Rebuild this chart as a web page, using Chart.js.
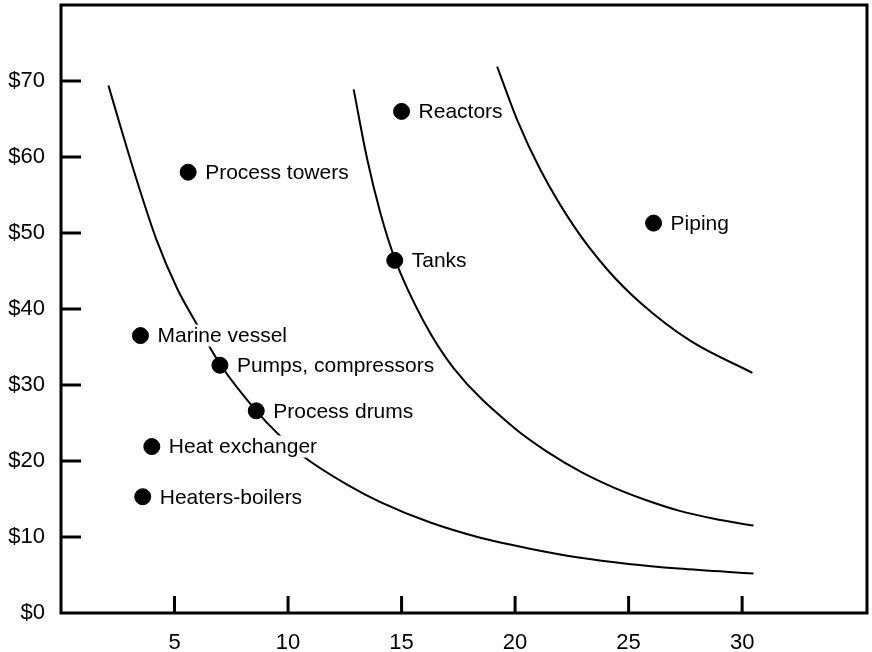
<!DOCTYPE html>
<html lang="en">
<head>
    <meta charset="UTF-8">
    <title>Cost curves</title>
    <script src="https://cdn.jsdelivr.net/npm/chart.js"></script>
    <style>
        body { margin: 0; background: #fff; }
    </style>
</head>
<body>
    <canvas id="myChart" width="872" height="652"></canvas>
    <script>
        // equipment points
        var pointNames = ['Reactors', 'Process towers', 'Piping', 'Tanks', 'Marine vessel',
                          'Pumps, compressors', 'Process drums', 'Heat exchanger', 'Heaters-boilers'];
        var pointX = [15.0, 5.6, 26.1, 14.7, 3.5, 7.0, 8.6, 4.0, 3.6];
        var pointY = [66.0, 58.0, 51.3, 46.4, 36.5, 32.6, 26.6, 21.9, 15.3];

        // curves
        var curve1X = [2.09, 2.75, 3.48, 4.22, 5.1, 5.98, 7.04, 8.6, 9.58, 10.68, 12.6, 14.07, 16.27, 18.47, 20.6, 22.8, 25.0, 27.2, 30.5];
        var curve1Y = [69.4, 62.7, 55.6, 49.0, 42.8, 38.0, 32.6, 26.6, 23.5, 20.6, 16.9, 14.6, 11.9, 9.9, 8.5, 7.3, 6.45, 5.85, 5.2];
        var curve2X = [12.89, 13.48, 14.07, 14.73, 15.97, 17.3, 19.94, 21.42, 22.88, 24.35, 25.82, 27.29, 28.76, 30.5];
        var curve2Y = [68.9, 59.8, 52.6, 46.4, 38.4, 32.2, 24.4, 21.2, 18.6, 16.5, 14.8, 13.4, 12.4, 11.5];
        var curve3X = [19.21, 20.09, 21.12, 22.59, 24.06, 25.53, 27.73, 30.45];
        var curve3Y = [71.9, 64.9, 58.3, 50.9, 45.2, 40.8, 35.8, 31.6];

        var xTicks = [5, 10, 15, 20, 25, 30];
        var yTicks = [0, 10, 20, 30, 40, 50, 60, 70];

        function pairs(xs, ys) {
            return xs.map(function (x, i) { return { x: x, y: ys[i] }; });
        }

        var FONT = '"Liberation Sans", Arial, sans-serif';

        function curveSet(xs, ys) {
            return {
                type: 'line',
                data: pairs(xs, ys),
                borderColor: '#000',
                borderWidth: 2,
                pointRadius: 0,
                fill: false,
                cubicInterpolationMode: 'monotone',
                order: 2
            };
        }

        // frame + inward tick marks
        var framePlugin = {
            id: 'frame',
            beforeDatasetsDraw: function (chart) {
                var c = chart.ctx, a = chart.chartArea;
                var xs = chart.scales.x, ys = chart.scales.y;
                c.save();
                c.strokeStyle = '#000';
                c.lineWidth = 3;
                c.strokeRect(a.left, a.top, a.right - a.left, a.bottom - a.top);
                xTicks.forEach(function (v) {
                    var px = xs.getPixelForValue(v);
                    c.beginPath();
                    c.moveTo(px, a.bottom);
                    c.lineTo(px, a.bottom - 17);
                    c.stroke();
                });
                yTicks.forEach(function (v) {
                    if (v === 0) return;
                    var py = ys.getPixelForValue(v);
                    c.beginPath();
                    c.moveTo(a.left, py);
                    c.lineTo(a.left + 20, py);
                    c.stroke();
                });
                c.restore();
            },
            // labels go over the curves but under the dots
            beforeDatasetDraw: function (chart, args) {
                if (args.index !== 3) return;
                var c = chart.ctx;
                var xs = chart.scales.x, ys = chart.scales.y;
                c.save();
                c.font = '21px ' + FONT;
                c.textBaseline = 'middle';
                c.textAlign = 'left';
                pointNames.forEach(function (name, i) {
                    var px = xs.getPixelForValue(pointX[i]) + 17;
                    var py = ys.getPixelForValue(pointY[i]);
                    var w = c.measureText(name).width;
                    c.fillStyle = '#fff';
                    c.fillRect(px - 3, py - 11, w + 6, 22);
                    c.fillStyle = '#000';
                    c.fillText(name, px, py + 1);
                });
                c.restore();
            }
        };

        var ctx = document.getElementById('myChart').getContext('2d');
        var myChart = new Chart(ctx, {
            data: {
                datasets: [
                    curveSet(curve1X, curve1Y),
                    curveSet(curve2X, curve2Y),
                    curveSet(curve3X, curve3Y),
                    {
                        type: 'scatter',
                        data: pairs(pointX, pointY),
                        backgroundColor: '#000',
                        borderColor: '#000',
                        pointRadius: 8,
                        pointHoverRadius: 8,
                        order: 1
                    }
                ]
            },
            options: {
                responsive: false,
                animation: false,
                events: [],
                layout: { autoPadding: false, padding: { top: 5, right: 5, left: 0, bottom: 0 } },
                plugins: { legend: { display: false }, tooltip: { enabled: false } },
                scales: {
                    x: {
                        type: 'linear',
                        min: 0,
                        max: 35.5,
                        grid: { display: false, drawTicks: false },
                        border: { display: false },
                        afterBuildTicks: function (s) { s.ticks = xTicks.map(function (v) { return { value: v }; }); },
                        afterFit: function (s) { s.height = 39; s.paddingLeft = 0; s.paddingRight = 0; },
                        ticks: {
                            color: '#000',
                            padding: 17,
                            maxRotation: 0,
                            font: { family: FONT, size: 22 }
                        }
                    },
                    y: {
                        type: 'linear',
                        min: 0,
                        max: 80,
                        grid: { display: false, drawTicks: false },
                        border: { display: false },
                        afterBuildTicks: function (s) { s.ticks = yTicks.map(function (v) { return { value: v }; }); },
                        afterFit: function (s) { s.width = 61; s.paddingTop = 0; s.paddingBottom = 0; },
                        ticks: {
                            color: '#000',
                            padding: 16,
                            font: { family: FONT, size: 22 },
                            callback: function (v) { return '$' + v; }
                        }
                    }
                }
            },
            plugins: [framePlugin]
        });
    </script>
</body>
</html>
